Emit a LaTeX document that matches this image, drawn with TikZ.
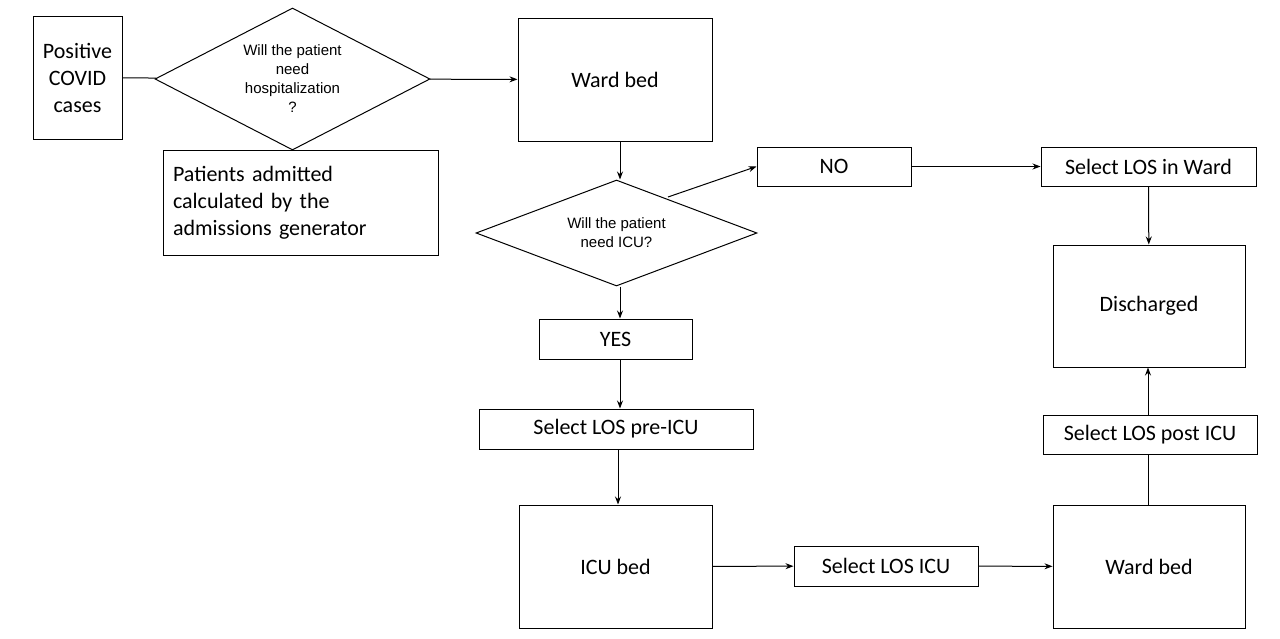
\documentclass[tikz,border=0pt]{standalone}
\usepackage{fontspec}
\setmainfont{Carlito}
\newfontfamily\arialfont{Liberation Sans}
\usetikzlibrary{shapes.geometric,arrows.meta}

\tikzset{
  box/.style={draw, line width=1pt, font=\fontsize{22}{27}\selectfont, align=center, inner sep=0pt},
  decision/.style={draw, line width=1pt, diamond, aspect=1.9, inner sep=0pt, font=\arialfont\fontsize{15}{19}\selectfont, align=center},
  flow/.style={line width=1pt, -{Stealth[length=8pt,width=6pt]}},
  link/.style={line width=1pt}
}

\begin{document}
\begin{tikzpicture}[x=1pt,y=-1pt]
  \useasboundingbox (0,0) rectangle (1280,638);
  % first row
  \node[box, minimum width=89, minimum height=123] (cases) at (77.5,77.5) {Positive\\COVID\\cases};
  \node[decision, minimum width=275, minimum height=142] (hosp) at (292.5,79) {Will the patient\\need\\hospitalization\\?};
  \node[box, minimum width=194, minimum height=123] (ward) at (615,79.5) {Ward bed};
  \node[box, minimum width=275, minimum height=105, align=left, text width=255] (gen) at (300.5,202.5) {Patients admitted\\calculated by the\\admissions generator};
  % ICU decision
  \node[decision, minimum width=281, minimum height=106] (icu) at (616.5,233) {Will the patient\\need ICU?};
  \coordinate (icuedge) at (668,197);
  \node[box, minimum width=154, minimum height=39] (no) at (834,166.5) {NO};
  \node[box, minimum width=215, minimum height=39] (losward) at (1148.5,166.5) {Select LOS in Ward};
  \node[box, minimum width=192, minimum height=122] (disch) at (1149,306) {Discharged};
  \node[box, minimum width=153, minimum height=40] (yes) at (615.5,339) {YES};
  \node[box, minimum width=274, minimum height=40] (preicu) at (616,429) {Select LOS pre-ICU};
  \node[box, minimum width=193, minimum height=123] (icubed) at (615.5,566.5) {ICU bed};
  \node[box, minimum width=184, minimum height=40] (losicu) at (886,566) {Select LOS ICU};
  \node[box, minimum width=192, minimum height=123] (ward2) at (1149,566.5) {Ward bed};
  \node[box, minimum width=214, minimum height=39] (post) at (1150,434.5) {Select LOS post ICU};
  % connectors
  \draw[link] (cases) -- (hosp);
  \draw[flow] (hosp) -- (ward);
  \draw[flow] (ward.south -| 620,0) -- (icu.north -| 620,0);
  \draw[flow] (icuedge) -- (no.west);
  \draw[flow] (no) -- (losward);
  \draw[flow] (losward) -- (disch);
  \draw[flow] (icu.south -| 620,0) -- (yes.north -| 620,0);
  \draw[flow] (yes.south -| 620,0) -- (preicu.north -| 620,0);
  \draw[flow] (preicu.south -| 618,0) -- (icubed.north -| 618,0);
  \draw[flow] (icubed) -- (losicu);
  \draw[flow] (losicu) -- (ward2);
  \draw[link] (ward2.north -| 1148,0) -- (post.south -| 1148,0);
  \draw[flow] (post.north -| 1148,0) -- (disch.south -| 1148,0);
\end{tikzpicture}
\end{document}
